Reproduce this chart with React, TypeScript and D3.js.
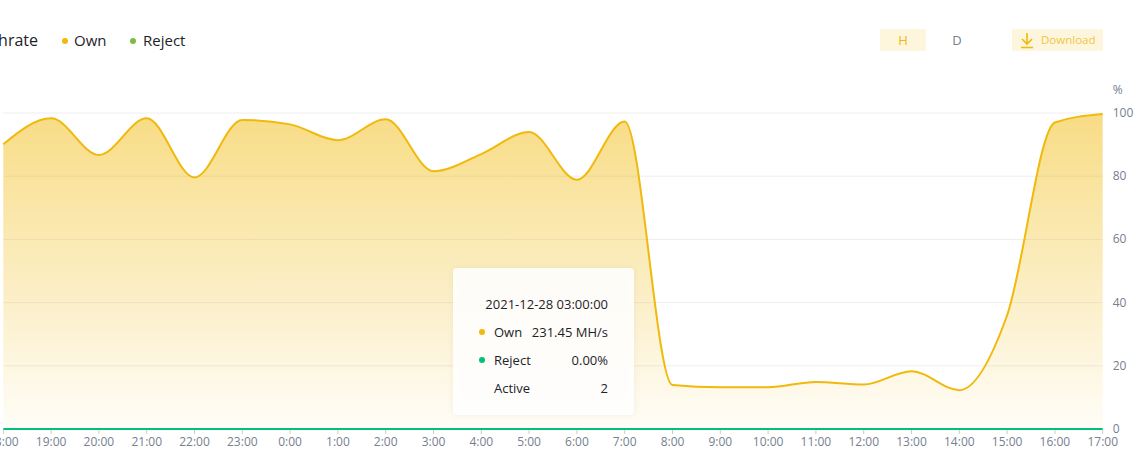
import React, { useEffect } from 'react';
import * as d3 from 'd3';

const W = 1136;
const H = 452;
const margin = { top: 113, right: 33, bottom: 23, left: 3 };

const hours = [
  '18:00', '19:00', '20:00', '21:00', '22:00', '23:00', '0:00', '1:00',
  '2:00', '3:00', '4:00', '5:00', '6:00', '7:00', '8:00', '9:00',
  '10:00', '11:00', '12:00', '13:00', '14:00', '15:00', '16:00', '17:00',
];
// hashrate relative to max, %
const ownValues = [
  90.1, 98.3, 86.7, 98.3, 79.6, 97.8, 96.4, 91.4, 98.0, 81.6, 87.0, 94.0,
  78.9, 97.3, 13.9, 13.2, 13.2, 14.9, 14.1, 18.3, 12.3, 36.0, 97.0, 99.7,
];
const rejectValues = [
  0, 0, 0, 0, 0, 0, 0, 0, 0, 0, 0, 0, 0, 0, 0, 0, 0, 0, 0, 0, 0, 0, 0, 0,
];
const yTicks = [0, 20, 40, 60, 80, 100];

const YELLOW = '#f0b90b';
const GREEN = '#02c076';
const GREY = '#76808f';
const DARK = '#1e2329';
const FONT = "'Open Sans', Roboto, sans-serif";

export default function App() {
  useEffect(() => {
    document.body.style.margin = '0';
  }, []);

  const x = d3
    .scalePoint<string>()
    .domain(hours)
    .range([margin.left + 0.3, W - margin.right - 0.3]);
  const y = d3
    .scaleLinear()
    .domain([0, 100])
    .range([H - margin.bottom, margin.top]);

  const line = d3
    .line<number>()
    .x((_, i) => x(hours[i]) ?? 0)
    .y((d) => y(d))
    .curve(d3.curveMonotoneX);
  const area = d3
    .area<number>()
    .x((_, i) => x(hours[i]) ?? 0)
    .y0(y(0))
    .y1((d) => y(d))
    .curve(d3.curveMonotoneX);

  const x0 = x.range()[0];
  const x1 = x.range()[1];

  return (
    <svg width={W} height={H} style={{ display: 'block', fontFamily: FONT }}>
      <defs>
        <linearGradient id="ownFill" gradientUnits="userSpaceOnUse" x1="0" y1={y(100)} x2="0" y2={y(0)}>
          <stop offset="0" stopColor={YELLOW} stopOpacity={0.5} />
          <stop offset="1" stopColor={YELLOW} stopOpacity={0.03} />
        </linearGradient>
        <filter id="tipShadow" x="-20%" y="-20%" width="140%" height="140%">
          <feDropShadow dx="0" dy="0" stdDeviation="3" floodColor="#000" floodOpacity="0.06" />
        </filter>
      </defs>

      {/* header */}
      <text x={38} y={46} fontSize={16} fill={DARK} textAnchor="end">Hashrate</text>
      <circle cx={65} cy={41} r={3} fill={YELLOW} />
      <text x={74} y={46} fontSize={15} fill={DARK}>Own</text>
      <circle cx={133} cy={41} r={3} fill="#7dbd45" />
      <text x={143} y={46} fontSize={15} fill={DARK}>Reject</text>

      <rect x={880} y={29} width={46} height={22} rx={2} fill="#fdf6dc" />
      <text x={903} y={45} fontSize={13} fill={YELLOW} textAnchor="middle">H</text>
      <text x={957} y={45} fontSize={13} fill={GREY} textAnchor="middle">D</text>
      <rect x={1012} y={29} width={91} height={22} rx={2} fill="#fdf6dc" />
      <path d="M1027 33 V44 M1022 39 L1027 44 L1032 39 M1021 47.5 H1033" stroke={YELLOW} strokeWidth={1.6} fill="none" />
      <text x={1041} y={44} fontSize={11.5} fill="#f3c34a">Download</text>

      {/* grid */}
      {yTicks.map((t) => (
        <g key={t}>
          {t > 0 && <line x1={x0} x2={x1} y1={y(t)} y2={y(t)} stroke="#eeeeee" strokeWidth={1} />}
          <text x={x1 + 10} y={y(t) + 4} fontSize={12} fill={GREY}>{t}</text>
        </g>
      ))}
      <text x={x1 + 10} y={94} fontSize={12} fill={GREY}>%</text>

      {/* series */}
      <path d={area(ownValues) ?? ''} fill="url(#ownFill)" />
      <path d={line(ownValues) ?? ''} fill="none" stroke={YELLOW} strokeWidth={2} />
      <path d={line(rejectValues) ?? ''} fill="none" stroke={GREEN} strokeWidth={2} />

      {/* x axis */}
      {hours.map((h) => (
        <g key={h} transform={`translate(${x(h)},0)`}>
          <line y1={y(0) + 1} y2={y(0) + 5} stroke="#cccccc" />
          <text y={446} fontSize={12} fill={GREY} textAnchor="middle">{h}</text>
        </g>
      ))}

      {/* tooltip */}
      <g>
        <rect x={453} y={268} width={181} height={147} rx={4} fill="#ffffff" fillOpacity={0.88} filter="url(#tipShadow)" />
        <text x={608} y={309} fontSize={13} fill={DARK} textAnchor="end">2021-12-28 03:00:00</text>
        <circle cx={482} cy={332} r={3} fill={YELLOW} />
        <text x={494} y={337} fontSize={13} fill={DARK}>Own</text>
        <text x={608} y={337} fontSize={13} fill={DARK} textAnchor="end">231.45 MH/s</text>
        <circle cx={482} cy={360} r={3} fill={GREEN} />
        <text x={494} y={365} fontSize={13} fill={DARK}>Reject</text>
        <text x={608} y={365} fontSize={13} fill={DARK} textAnchor="end">0.00%</text>
        <text x={494} y={393} fontSize={13} fill={DARK}>Active</text>
        <text x={608} y={393} fontSize={13} fill={DARK} textAnchor="end">2</text>
      </g>
    </svg>
  );
}
